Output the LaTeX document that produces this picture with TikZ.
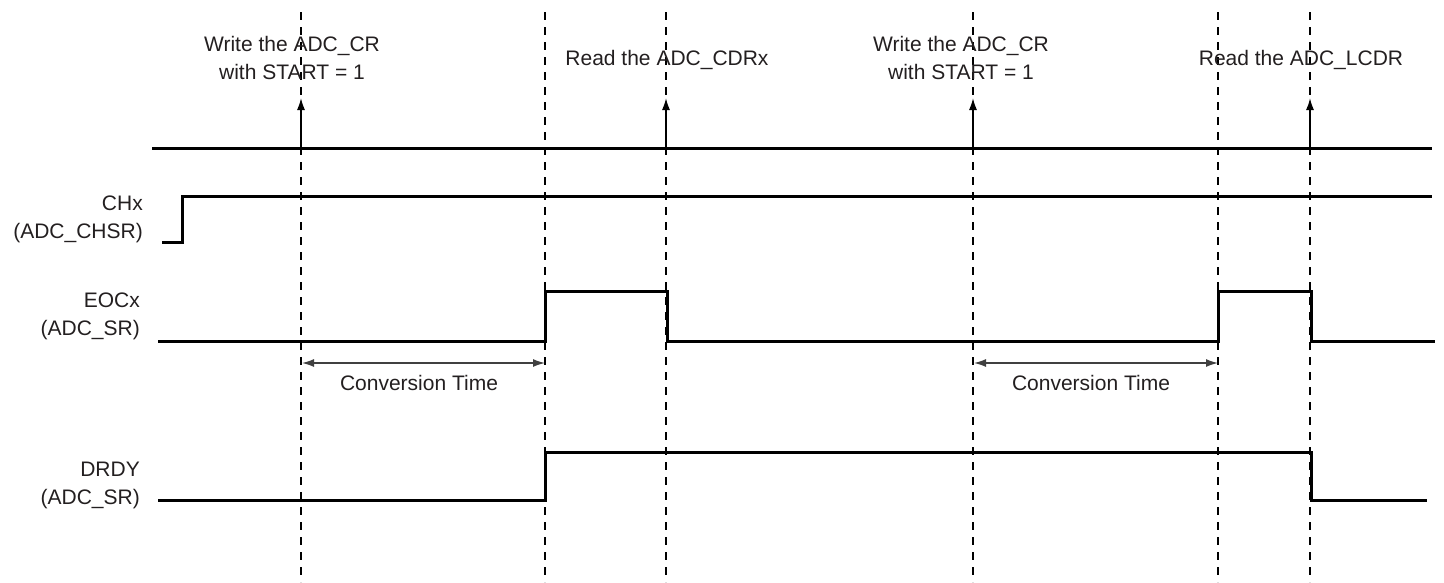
\documentclass[tikz,border=0pt]{standalone}
\usepackage{fontspec}
\setmainfont{Liberation Sans}
\usetikzlibrary{arrows.meta}
\definecolor{txt}{HTML}{231F20}
\definecolor{dimarrow}{HTML}{404040}
\begin{document}
\begin{tikzpicture}[x=1pt,y=-1pt,
  lbl/.style={inner sep=0pt,text=txt,font=\fontsize{21}{28}\selectfont},
  siglbl/.style={lbl,align=right,anchor=east},
  toplbl/.style={lbl,align=center},
  guide/.style={line width=1.1pt,dash pattern=on 8pt off 7pt},
  signal/.style={line width=3pt,line cap=butt,line join=miter},
  evt/.style={line width=1.6pt,-{Latex[length=12pt,width=8pt]}},
  span/.style={line width=1.4pt,draw=dimarrow,{Latex[length=12pt,width=8pt]}-{Latex[length=12pt,width=8pt]}}]
\useasboundingbox (0,0) rectangle (1444,582);

% vertical dashed guides
\foreach \x/\n in {301/a,545/b,666/c,973/d,1218/e,1310/f}{
  \coordinate (g\n top) at (\x,12);
  \coordinate (g\n bot) at (\x,582);
  \draw[guide] (g\n top) -- (g\n bot);
}

% bus line
\coordinate (busL) at (152,148);
\coordinate (busR) at (1432,148);
\draw[signal] (busL) -- (busR);

% event arrows
\foreach \x/\n in {301/1,666/2,973/3,1310/4}{
  \coordinate (e\n b) at (\x,148);
  \coordinate (e\n t) at (\x,98);
  \draw[evt] (e\n b) -- (e\n t);
}

% top labels
\node[toplbl] (w1) at (292,58) {Write the ADC\_CR\\with START = 1};
\node[lbl,anchor=base] (r1) at (667,65.5) {Read the ADC\_CDRx};
\node[toplbl] (w2) at (961,58) {Write the ADC\_CR\\with START = 1};
\node[lbl,anchor=base] (r2) at (1301,65.5) {Read the ADC\_LCDR};

% signal labels
\node[siglbl] (chx) at (143,219) {CHx\\(ADC\_CHSR)};
\node[siglbl] (eocx) at (140,316) {EOCx\\(ADC\_SR)};
\node[siglbl] (drdy) at (140,485) {DRDY\\(ADC\_SR)};

% CHx
\draw[signal] (162,242) -- (182,242) -- (182,196) -- (1432,196);
% EOCx
\draw[signal] (158,341) -- (545,341) -- (545,291) -- (667,291) -- (667,341)
  -- (1218,341) -- (1218,291) -- (1311,291) -- (1311,341) -- (1435,341);
% DRDY
\draw[signal] (158,500) -- (545,500) -- (545,452) -- (1311,452) -- (1311,500) -- (1427,500);

% conversion time spans
\coordinate (c1L) at (302,363);
\coordinate (c1R) at (545,363);
\coordinate (c2L) at (974,363);
\coordinate (c2R) at (1218,363);
\draw[span] (c1L) -- (c1R);
\draw[span] (c2L) -- (c2R);
\node[lbl] (ct1) at (419,383) {Conversion Time};
\node[lbl] (ct2) at (1091,383) {Conversion Time};
\end{tikzpicture}
\end{document}
